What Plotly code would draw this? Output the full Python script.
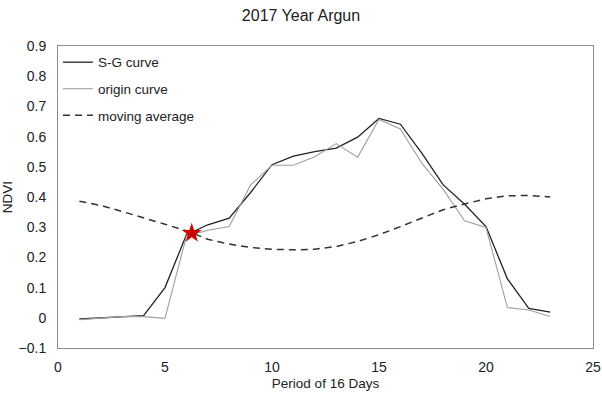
import plotly.graph_objects as go

# 16-day periods of the year
periods = list(range(1, 24))

# NDVI after Savitzky-Golay smoothing
sg_curve = [-0.004, 0.0, 0.004, 0.007, 0.10, 0.275, 0.308, 0.33, 0.415, 0.507,
            0.535, 0.55, 0.562, 0.598, 0.66, 0.641, 0.545, 0.44, 0.376, 0.302,
            0.129, 0.031, 0.019]

# raw NDVI series
origin_curve = [-0.006, -0.001, 0.004, 0.004, -0.002, 0.27, 0.29, 0.302, 0.44, 0.505,
                0.505, 0.533, 0.577, 0.532, 0.657, 0.625, 0.512, 0.425, 0.321, 0.299,
                0.034, 0.026, 0.004]

# moving average of NDVI
moving_avg = [0.386, 0.372, 0.352, 0.332, 0.31, 0.288, 0.26, 0.244, 0.233, 0.227,
              0.225, 0.227, 0.236, 0.253, 0.275, 0.302, 0.33, 0.358, 0.377, 0.394,
              0.404, 0.405, 0.40]

# start of season: crossing of S-G curve and moving average
sos_x = [6.25]
sos_y = [0.28]

font_family = "Liberation Sans, Arial, sans-serif"

fig = go.Figure()
fig.add_trace(go.Scatter(x=periods, y=sg_curve, mode="lines", name="S-G curve",
                         legendgroup="sg",
                         line=dict(color="#222222", width=1.3)))
fig.add_trace(go.Scatter(x=periods, y=origin_curve, mode="lines", name="origin curve",
                         legendgroup="origin",
                         line=dict(color="#a0a0a0", width=1.1)))
fig.add_trace(go.Scatter(x=periods, y=moving_avg, mode="lines", name="moving average",
                         legendgroup="ma",
                         line=dict(color="#333333", width=1.5, dash="7px,5px")))
fig.add_trace(go.Scatter(x=sos_x, y=sos_y, mode="markers", showlegend=False,
                         marker=dict(symbol="star", size=15, color="#cc0000",
                                     line=dict(width=0))))

fig.update_layout(
    width=602, height=393,
    margin=dict(l=58, r=9, t=46, b=45),
    paper_bgcolor="white", plot_bgcolor="white",
    font=dict(family=font_family, size=13.5, color="#222222"),
    title=dict(text="2017 Year Argun", x=0.5, xanchor="center", y=0.962, yanchor="middle",
               font=dict(size=16, color="#222222")),
    legend=dict(x=0.0, y=0.997, xanchor="left", yanchor="top",
                bgcolor="rgba(0,0,0,0)", itemwidth=30, traceorder="grouped",
                tracegroupgap=6, font=dict(size=13.5)),
    xaxis=dict(range=[0, 25], dtick=5, tick0=0, showgrid=False, zeroline=False,
               showline=True, linecolor="#8c8c8c", linewidth=1, mirror=True,
               ticks="", ticklabelstandoff=6, automargin=False,
               tickfont=dict(size=14),
               title=dict(text="Period of 16 Days", standoff=4, font=dict(size=13.5))),
    yaxis=dict(range=[-0.1, 0.9], dtick=0.1, tick0=0, showgrid=False, zeroline=False,
               showline=True, linecolor="#8c8c8c", linewidth=1, mirror=True,
               ticks="", tickformat=".1~f", ticklabelstandoff=8, automargin=False,
               tickfont=dict(size=14),
               title=dict(text="NDVI", standoff=6, font=dict(size=13.5))),
)

fig.write_html("out.html")
